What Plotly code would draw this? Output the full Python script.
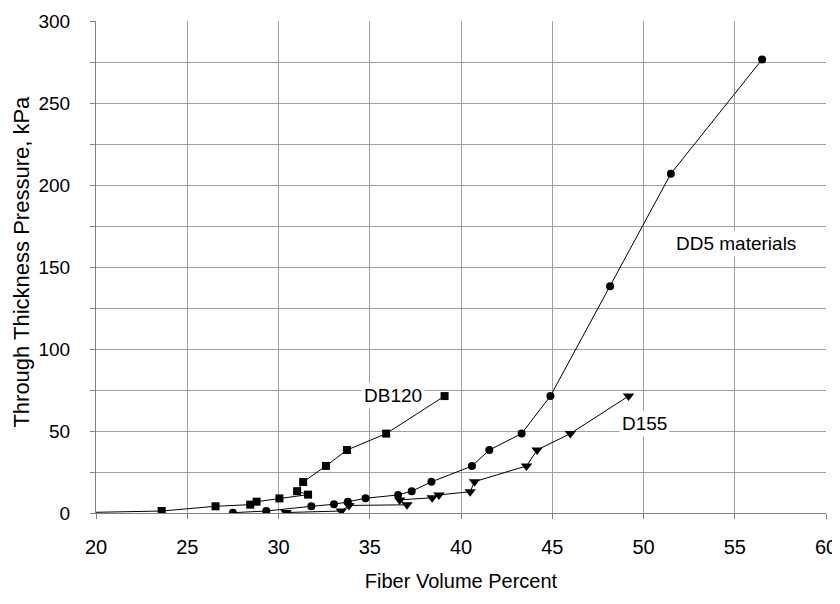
import plotly.graph_objects as go

# DB120 (squares) - first point lies left of the visible range
db120_x = [18.0, 23.6, 26.55, 28.45, 28.8, 30.05, 31.62, 31.02, 31.35, 32.6, 33.75, 35.9, 39.1]
db120_y = [0.0, 1.2, 4.1, 5.1, 6.9, 8.9, 11.2, 13.3, 18.9, 28.7, 38.4, 48.4, 71.3]

# DD5 materials (circles)
dd5_x = [27.5, 29.33, 31.8, 33.04, 33.8, 34.77, 36.55, 37.3, 38.38, 40.6, 41.55, 43.32, 44.9, 48.17, 51.5, 56.5]
dd5_y = [0.2, 1.2, 4.1, 5.3, 6.8, 9.0, 11.0, 13.3, 19.0, 28.6, 38.4, 48.4, 71.3, 138.2, 206.9, 276.6]

# D155 (down triangles)
d155_x = [30.42, 33.44, 33.86, 37.04, 36.64, 38.42, 38.79, 40.5, 40.74, 43.59, 44.17, 45.99, 49.18]
d155_y = [0.3, 1.2, 4.6, 5.0, 8.0, 9.3, 11.0, 13.0, 19.1, 28.7, 38.4, 48.4, 71.3]

labels = ["DB120", "DD5 materials", "D155"]
label_x = [36.3, 55.05, 50.05]
label_y = [71.8, 164.3, 54.7]

x_ticks = list(range(20, 61, 5))
y_ticks = list(range(0, 301, 50))

x_title = "Fiber Volume Percent"
y_title = "Through Thickness Pressure, kPa"

FONT = "Liberation Sans, Arial, sans-serif"

fig = go.Figure()
series = [
    (db120_x, db120_y, "square", 8),
    (dd5_x, dd5_y, "circle", 8),
    (d155_x, d155_y, "triangle-down", 10),
]
for xs, ys, sym, sz in series:
    fig.add_trace(go.Scatter(
        x=xs, y=ys, mode="lines+markers",
        line=dict(color="black", width=1),
        marker=dict(symbol=sym, size=sz, color="black"),
        showlegend=False,
    ))

for t, ax, ay in zip(labels, label_x, label_y):
    fig.add_annotation(x=ax, y=ay, text=t, showarrow=False,
                       font=dict(family=FONT, size=19, color="black"),
                       bgcolor="white", borderpad=2)

# y-axis title placed precisely
fig.add_annotation(xref="paper", yref="paper", x=-0.102, y=0.51,
                   text=y_title, textangle=-90, showarrow=False,
                   xanchor="center", yanchor="middle",
                   font=dict(family=FONT, size=22, color="black"))

fig.update_layout(
    width=840, height=604,
    margin=dict(l=88, r=22, t=13, b=99),
    paper_bgcolor="white", plot_bgcolor="white",
    font=dict(family=FONT, color="black"),
    xaxis=dict(
        range=[20, 60], tickvals=x_ticks, ticks="outside", ticklen=5,
        tickcolor="#808080", showgrid=True, gridcolor="#a0a0a0", gridwidth=1,
        showline=True, linecolor="#808080", linewidth=1, zeroline=False,
        tickfont=dict(size=20), ticklabelstandoff=11, automargin=False,
        title=dict(text=x_title, font=dict(size=20), standoff=16),
    ),
    yaxis=dict(
        range=[0, 300], tickvals=y_ticks, ticks="outside", ticklen=5,
        tickcolor="#808080", showgrid=True, gridcolor="#a0a0a0", gridwidth=1,
        showline=True, linecolor="#808080", linewidth=1, zeroline=False,
        tickfont=dict(size=19), ticklabelstandoff=16, automargin=False,
        minor=dict(dtick=25, ticks="outside", ticklen=5, tickcolor="#808080",
                   showgrid=True, gridcolor="#a0a0a0"),
    ),
)

fig.write_html("out.html")
